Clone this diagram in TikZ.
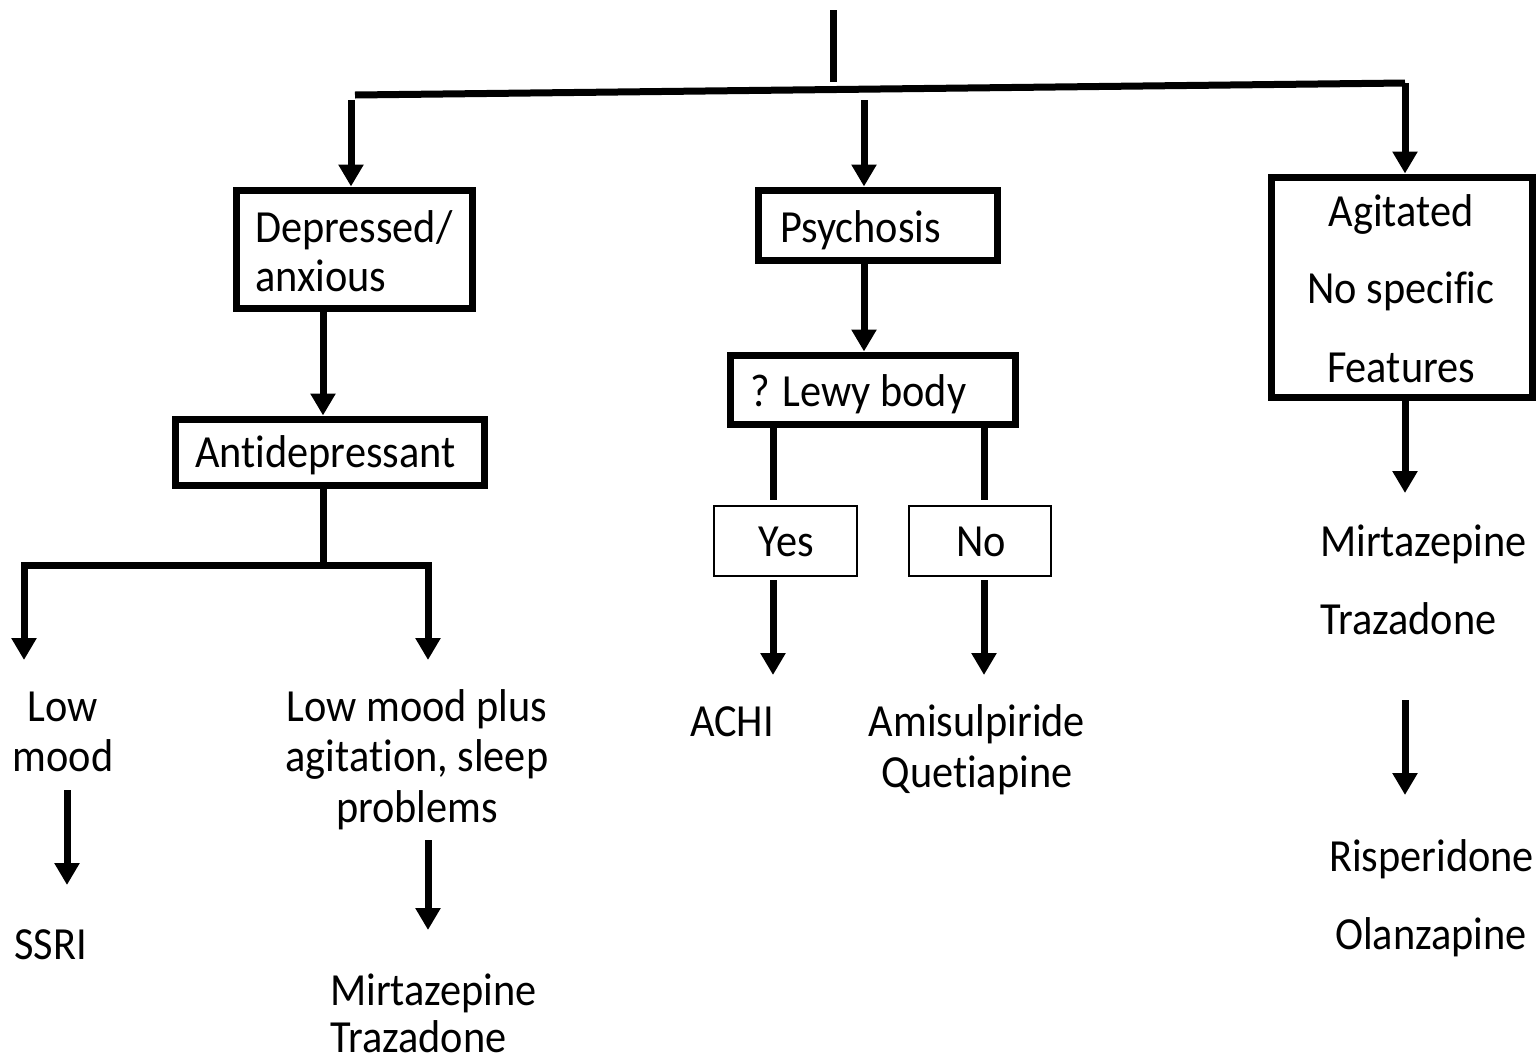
\documentclass[tikz,border=0pt]{standalone}
\usepackage{fontspec}
\setmainfont{Carlito}[FakeStretch=0.92,Ligatures=NoCommon]
\usetikzlibrary{arrows.meta}
\begin{document}
\begin{tikzpicture}[x=1pt,y=-1pt,
  thick line/.style={line width=7pt, line join=miter},
  arr/.style={thick line, -{Triangle[length=22pt,width=24pt]}},
  bigbox/.style={draw, line width=7pt, inner sep=0pt, fill=none},
  smallbox/.style={draw, line width=2pt, inner sep=0pt, fill=none},
  txt/.style={inner sep=0pt, font=\fontsize{46}{55}\selectfont},
  lt/.style={txt, anchor=base west},
  ct/.style={txt, anchor=base}]
\useasboundingbox (0,0) rectangle (1540,1061);

% boxes
\node[bigbox, minimum width=236pt, minimum height=118pt] (dep) at (354,249) {};
\node[bigbox, minimum width=239pt, minimum height=70pt] (psy) at (877.5,225) {};
\node[bigbox, minimum width=261pt, minimum height=220pt] (agi) at (1401.5,287) {};
\node[bigbox, minimum width=309pt, minimum height=66pt] (anti) at (329.5,452) {};
\node[bigbox, minimum width=285pt, minimum height=69pt] (lewy) at (872.5,389.5) {};
\node[smallbox, minimum width=143pt, minimum height=70pt] (yes) at (785.5,541) {};
\node[smallbox, minimum width=142pt, minimum height=70pt] (no) at (980,541) {};

% box texts
\node[lt] (tdep1) at (255,242) {Depressed/};
\node[lt] (tdep2) at (255,291) {anxious};
\node[lt] (tpsy) at (780,242) {Psychosis};
\node[ct] (tagi1) at (1401,226) {Agitated};
\node[ct] (tagi2) at (1401,303) {No specific};
\node[ct] (tagi3) at (1401,382) {Features};
\node[lt] (tanti) at (195,467) {Antidepressant};
\node[lt] (tlewy) at (750,406) {? Lewy body};
\node[ct] (tyes) at (786,556) {Yes};
\node[ct] (tno) at (981,556) {No};

% free texts
\node[ct] (low1) at (63,721) {Low};
\node[ct] (low2) at (63,771) {mood};
\node[lt] (ssri) at (14,959) {SSRI};
\node[ct] (lmp1) at (417,721) {Low mood plus};
\node[ct] (lmp2) at (417,771) {agitation, sleep};
\node[ct] (lmp3) at (417,822) {problems};
\node[lt] (mt1) at (330,1005) {Mirtazepine};
\node[lt] (tz1) at (330,1052) {Trazadone};
\node[lt] (achi) at (690,736) {ACHI};
\node[ct] (amis) at (977,736) {Amisulpiride};
\node[ct] (quet) at (977,787) {Quetiapine};
\node[lt] (mt2) at (1320,556) {Mirtazepine};
\node[lt] (tz2) at (1320,634) {Trazadone};
\node[lt] (risp) at (1329,871) {Risperidone};
\node[lt] (olan) at (1335,949) {Olanzapine};

% coordinates
\coordinate (top1) at (833,10);
\coordinate (top2) at (833,82);
\coordinate (hl) at (355,95);
\coordinate (hr) at (1405,83);
\coordinate (cdep) at (351,100);
\coordinate (cpsy) at (864,100);
\coordinate (ca) at (323,0);
\coordinate (cj) at (323,565);
\coordinate (cjl) at (24,565);
\coordinate (cjr) at (428,565);
\coordinate (ctl) at (24,660);
\coordinate (ctr) at (428,660);
\coordinate (cyes) at (773,500);
\coordinate (cno) at (984,500);
\coordinate (cyes2) at (773,580);
\coordinate (cno2) at (984,580);
\coordinate (ayes) at (773,675);
\coordinate (ano) at (984,675);
\coordinate (cagi) at (1405,493);
\coordinate (ag2a) at (1405,700);
\coordinate (ag2b) at (1405,795);
\coordinate (lm1) at (67,790);
\coordinate (lm2) at (67,885);
\coordinate (lp1) at (428,840);
\coordinate (lp2) at (428,930);

% connectors
\draw[thick line] (top1) -- (top2);
\draw[thick line] (hl) -- (hr);
\draw[arr] (hr) -- (hr |- agi.north);
\draw[arr] (cdep) -- (cdep |- dep.north);
\draw[arr] (cpsy) -- (cpsy |- psy.north);
\draw[arr] (dep.south -| ca) -- (anti.north -| ca);
\draw[thick line] (anti.south -| ca) -- (cj);
\draw[arr] (cj) -- (cjl) -- (ctl);
\draw[arr] (cj) -- (cjr) -- (ctr);
\draw[arr] (psy.south -| cpsy) -- (lewy.north -| cpsy);
\draw[thick line] (lewy.south -| cyes) -- (cyes);
\draw[thick line] (lewy.south -| cno) -- (cno);
\draw[arr] (cyes2) -- (ayes);
\draw[arr] (cno2) -- (ano);
\draw[arr] (agi.south -| cagi) -- (cagi);
\draw[arr] (ag2a) -- (ag2b);
\draw[arr] (lm1) -- (lm2);
\draw[arr] (lp1) -- (lp2);
\end{tikzpicture}
\end{document}
